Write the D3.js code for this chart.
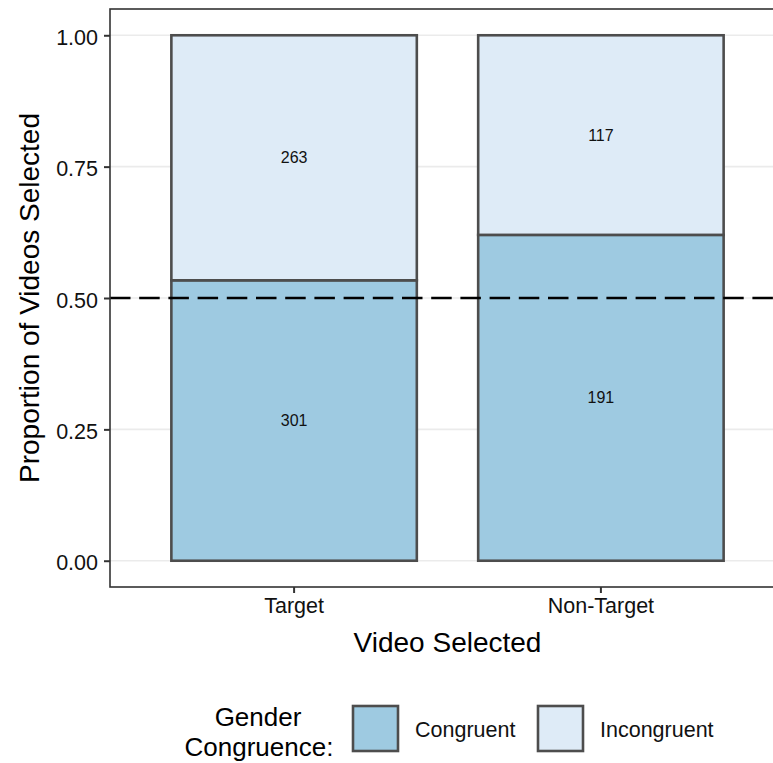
<!DOCTYPE html>
<html>
<head>
<meta charset="utf-8">
<script src="https://cdn.jsdelivr.net/npm/d3@7"></script>
<style>
  html, body { margin: 0; padding: 0; background: #fff; }
  svg { display: block; font-family: "Liberation Sans", Arial, sans-serif; }
</style>
</head>
<body>
<svg id="chart" width="773" height="763"></svg>
<script>
// Video choices split by gender congruence
const categories = ["Target", "Non-Target"];
const groups = ["Congruent", "Incongruent"];
const congruentCounts = [301, 191];
const incongruentCounts = [263, 117];
const groupColors = ["#9ECAE1", "#DEEBF7"];
const yTicks = [0, 0.25, 0.5, 0.75, 1];
const referenceLevel = 0.5;

const svg = d3.select("#chart");
const panel = { left: 110, right: 785, top: 9, bottom: 587 };

const rows = categories.map((c, i) => {
  const total = congruentCounts[i] + incongruentCounts[i];
  return {
    category: c,
    Congruent: congruentCounts[i] / total,
    Incongruent: incongruentCounts[i] / total,
    counts: { Congruent: congruentCounts[i], Incongruent: incongruentCounts[i] }
  };
});

const stacked = d3.stack().keys(groups)(rows);

const x = d3.scaleBand().domain(categories)
  .range([panel.left, panel.right]).paddingInner(0.2).paddingOuter(0.2);
const y = d3.scaleLinear().domain([-0.05, 1.05]).range([panel.bottom, panel.top]);
const color = d3.scaleOrdinal().domain(groups).range(groupColors);

// horizontal major gridlines
svg.append("g").selectAll("line").data(yTicks).join("line")
  .attr("x1", panel.left).attr("x2", panel.right)
  .attr("y1", d => y(d)).attr("y2", d => y(d))
  .attr("stroke", "#EBEBEB").attr("stroke-width", 1.6);

// stacked bars
const layers = svg.append("g").selectAll("g").data(stacked).join("g")
  .attr("fill", d => color(d.key));
layers.selectAll("rect").data(d => d.map(v => ({ v, key: d.key }))).join("rect")
  .attr("x", d => x(d.v.data.category))
  .attr("width", x.bandwidth())
  .attr("y", d => y(d.v[1]))
  .attr("height", d => y(d.v[0]) - y(d.v[1]))
  .attr("stroke", "#4D4D4D").attr("stroke-width", 2.6);

// count labels in the middle of each segment
layers.selectAll("text").data(d => d.map(v => ({ v, key: d.key }))).join("text")
  .attr("x", d => x(d.v.data.category) + x.bandwidth() / 2)
  .attr("y", d => y((d.v[0] + d.v[1]) / 2))
  .attr("dy", "0.35em")
  .attr("text-anchor", "middle")
  .attr("font-size", 16).attr("fill", "#111")
  .text(d => d.v.data.counts[d.key]);

// chance reference line
svg.append("line")
  .attr("x1", panel.left).attr("x2", panel.right)
  .attr("y1", y(referenceLevel)).attr("y2", y(referenceLevel))
  .attr("stroke", "#000").attr("stroke-width", 2.6)
  .attr("stroke-dasharray", "20.5 8.7");

// panel border
svg.append("rect")
  .attr("x", panel.left).attr("y", panel.top)
  .attr("width", panel.right - panel.left).attr("height", panel.bottom - panel.top)
  .attr("fill", "none").attr("stroke", "#333").attr("stroke-width", 1.6);

// y axis
const yAxis = svg.append("g").attr("transform", `translate(${panel.left},0)`)
  .call(d3.axisLeft(y).tickValues(yTicks).tickFormat(d3.format(".2f")).tickSize(6).tickPadding(6));
yAxis.select(".domain").remove();
yAxis.selectAll(".tick line").attr("stroke", "#333").attr("stroke-width", 2);
yAxis.selectAll(".tick text").attr("font-size", 21.5).attr("fill", "#111")
  .attr("font-family", "Liberation Sans, Arial, sans-serif").attr("dy", "0.42em");

// x axis
const xAxis = svg.append("g").attr("transform", `translate(0,${panel.bottom})`)
  .call(d3.axisBottom(x).tickSize(6).tickPadding(5));
xAxis.select(".domain").remove();
xAxis.selectAll(".tick line").attr("stroke", "#333").attr("stroke-width", 2);
xAxis.selectAll(".tick text").attr("font-size", 21.5).attr("fill", "#111")
  .attr("font-family", "Liberation Sans, Arial, sans-serif");

// axis titles
svg.append("text")
  .attr("x", (panel.left + panel.right) / 2).attr("y", 652)
  .attr("text-anchor", "middle").attr("font-size", 28).attr("fill", "#000")
  .text("Video Selected");
svg.append("text")
  .attr("transform", `translate(39,${(panel.top + panel.bottom) / 2}) rotate(-90)`)
  .attr("text-anchor", "middle").attr("font-size", 28).attr("fill", "#000")
  .text("Proportion of Videos Selected");

// legend
const legend = svg.append("g");
legend.append("text").attr("x", 258).attr("y", 726)
  .attr("text-anchor", "middle").attr("font-size", 26).attr("fill", "#000")
  .text("Gender");
legend.append("text").attr("x", 259).attr("y", 756)
  .attr("text-anchor", "middle").attr("font-size", 26).attr("fill", "#000")
  .text("Congruence:");

const keyX = [352, 537];
const keys = legend.selectAll("g.key").data(groups).join("g")
  .attr("class", "key")
  .attr("transform", (d, i) => `translate(${keyX[i]},705)`);
keys.append("rect")
  .attr("x", 1).attr("y", 1).attr("width", 45).attr("height", 45)
  .attr("fill", d => color(d)).attr("stroke", "#4D4D4D").attr("stroke-width", 2.6);
keys.append("text")
  .attr("x", 63).attr("y", 24).attr("dy", "0.36em")
  .attr("font-size", 21.5).attr("fill", "#111")
  .text(d => d);
</script>
</body>
</html>
